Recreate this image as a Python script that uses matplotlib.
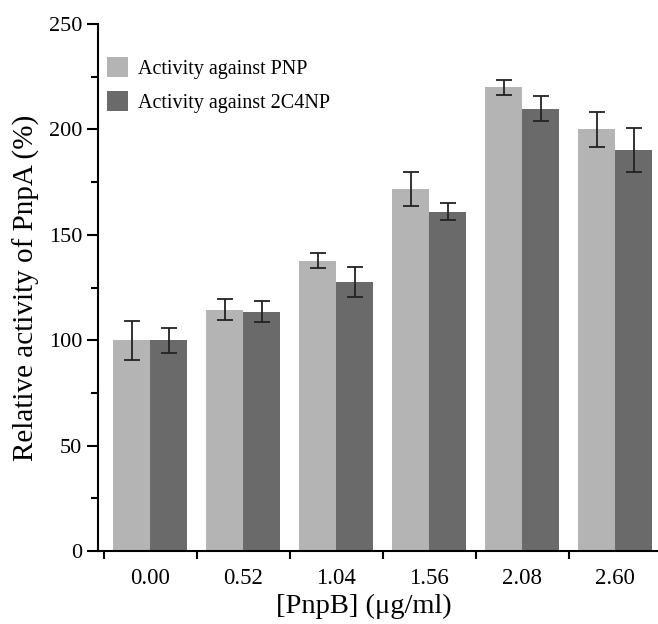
import matplotlib.pyplot as plt
import numpy as np

concentrations = ['0.00', '0.52', '1.04', '1.56', '2.08', '2.60']
pnp_mean = [100, 114.5, 137.7, 171.6, 219.9, 200]
pnp_err = [9.2, 5, 3.6, 8, 3.5, 8.4]
c4np_mean = [100, 113.4, 127.6, 161, 209.9, 190.2]
c4np_err = [6, 5, 7.3, 4.2, 5.8, 10.5]

plt.rcParams['font.family'] = ['Liberation Serif', 'DejaVu Serif']

fig = plt.figure(figsize=(6.58, 6.24), dpi=100)
ax = fig.add_axes([0.149, 0.117, 0.851, 0.8445])

x = np.arange(len(concentrations))
width = 0.4
err_kw = dict(ecolor='#222222', elinewidth=1.3, capsize=6, capthick=1.3)

ax.bar(x - width / 2, pnp_mean, width, yerr=pnp_err, color='#b4b4b4',
       label='Activity against PNP', error_kw=err_kw)
ax.bar(x + width / 2, c4np_mean, width, yerr=c4np_err, color='#6a6a6a',
       label='Activity against 2C4NP', error_kw=err_kw)

ax.set_xlim(-0.56, 5.46)
ax.set_ylim(0, 250)

ax.spines['top'].set_visible(False)
ax.spines['right'].set_visible(False)
for s in ['left', 'bottom']:
    ax.spines[s].set_linewidth(1.5)

# category labels without ticks, tick marks between groups
ax.set_xticks(x)
ax.set_xticklabels(concentrations, fontsize=16.5)
ax.set_xticks(np.arange(-0.5, len(concentrations) - 0.5), minor=True)
ax.tick_params(axis='x', which='major', length=0, pad=12)
ax.tick_params(axis='x', which='minor', length=6, width=1.5, direction='out')

ax.set_yticks(np.arange(0, 251, 50))
ax.set_yticks(np.arange(25, 250, 50), minor=True)
ax.tick_params(axis='y', which='major', labelsize=16, length=8, width=1.5)
ax.tick_params(axis='y', which='minor', length=5, width=1.5)

ax.set_xlabel('[PnpB] (\u03bcg/ml)', fontsize=20.5)
ax.xaxis.set_label_coords(0.475, -0.082)
ax.set_ylabel('Relative activity of PnpA (%)', fontsize=21, labelpad=6)

ax.legend(loc='upper left', frameon=False, fontsize=14.5, handlelength=1.05,
          handleheight=1.2, handletextpad=0.5, labelspacing=0.6,
          bbox_to_anchor=(-0.01, 0.965), borderaxespad=0.3)

fig.savefig('out.png', dpi=100)
